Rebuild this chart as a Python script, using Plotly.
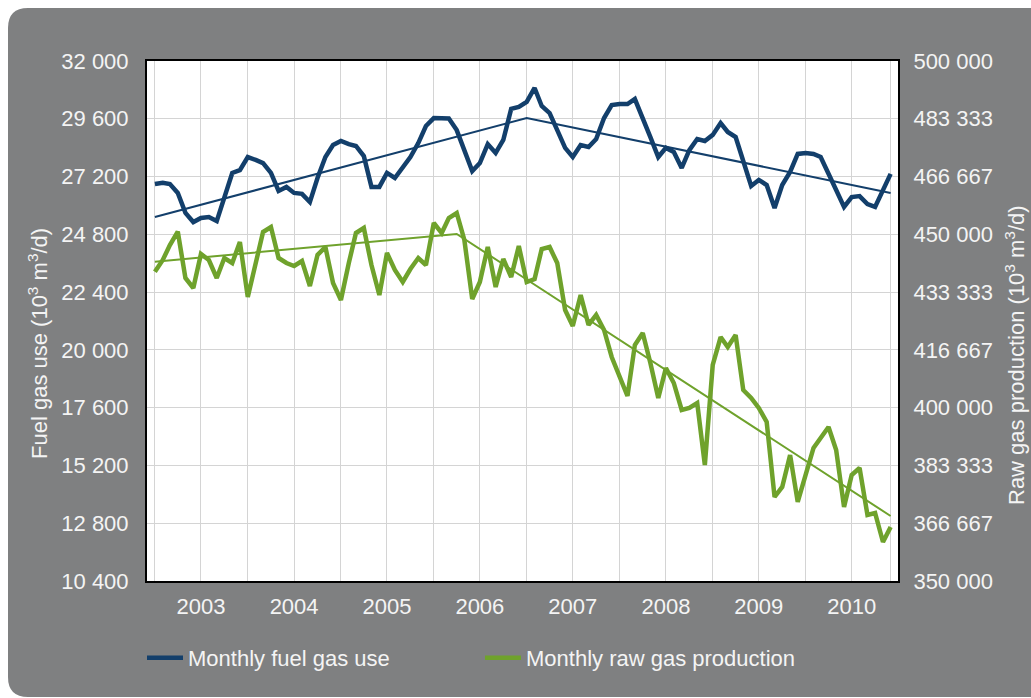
import pandas as pd
import plotly.graph_objects as go

# ---------------- data ----------------
months = pd.date_range("2003-01-01", periods=96, freq="MS")

fuel_gas = [26890, 26945, 26890, 26520, 25690, 25310, 25480, 25520, 25350, 26350,
            27350, 27470, 28010, 27890, 27760, 27350, 26600, 26770, 26520, 26480,
            26140, 27140, 28010, 28510, 28680, 28550, 28470, 28050, 26770, 26770,
            27350, 27140, 27600, 28010, 28590, 29300, 29630, 29630, 29610, 29130,
            28300, 27430, 27760, 28550, 28180, 28720, 30010, 30090, 30300, 30880,
            30130, 29840, 29130, 28390, 28010, 28510, 28430, 28760, 29630, 30170,
            30210, 30210, 30420, 29670, 28840, 28010, 28390, 28220, 27560, 28300,
            28760, 28680, 28930, 29420, 29050, 28840, 27800, 26810, 27060, 26850,
            25890, 26850, 27390, 28140, 28180, 28140, 28010, 27350, 26640, 25940,
            26350, 26390, 26060, 25940, 26640, 27310]

raw_gas = [439220, 442600, 446920, 450760, 437400, 434520, 444330, 442600, 437400, 443170,
           441730, 447790, 431920, 441150, 450670, 452120, 443170, 441730, 440870, 442310,
           435100, 444040, 446350, 435960, 431060, 441730, 450380, 451830, 441150, 432500,
           444620, 439710, 436250, 440000, 443170, 441150, 453270, 450380, 454710, 456150,
           448370, 431350, 436250, 446350, 434810, 442880, 437690, 446630, 436250, 437120,
           445770, 446350, 441730, 428170, 423560, 432500, 423850, 426730, 422400, 414620,
           408560, 403370, 418080, 421540, 412880, 402790, 411440, 407120, 399330, 399900,
           401350, 383460, 412310, 420380, 417500, 420960, 405100, 402790, 399900, 395870,
           374230, 377120, 386350, 372790, 380580, 388370, 391250, 394420, 387790, 371350,
           380580, 382600, 369040, 369620, 361250, 365580]

fuel_trend_x = ["2003-01-01", "2007-01-01", "2010-12-01"]
fuel_trend_y = [25520, 29630, 26520]
raw_trend_x = ["2003-01-01", "2006-04-01", "2010-12-01"]
raw_trend_y = [442100, 450100, 368750]

year_ticks = ["2003-07-01", "2004-07-01", "2005-07-01", "2006-07-01",
              "2007-07-01", "2008-07-01", "2009-07-01", "2010-07-01"]
year_labels = ["2003", "2004", "2005", "2006", "2007", "2008", "2009", "2010"]
minor_grid = ["2003-01-01", "2004-01-01", "2005-01-01", "2006-01-01", "2007-01-01",
              "2008-01-01", "2009-01-01", "2010-01-01", "2010-12-01"]

left_ticks = [10400, 12800, 15200, 17600, 20000, 22400, 24800, 27200, 29600, 32000]
left_labels = ["10 400", "12 800", "15 200", "17 600", "20 000", "22 400",
               "24 800", "27 200", "29 600", "32 000"]
right_ticks = [350000, 366666.67, 383333.33, 400000, 416666.67, 433333.33,
               450000, 466666.67, 483333.33, 500000]
right_labels = ["350 000", "366 667", "383 333", "400 000", "416 667", "433 333",
                "450 000", "466 667", "483 333", "500 000"]

# ---------------- style ----------------
BLUE = "#133f6b"
GREEN = "#6fa22c"
PANEL = "#7f8081"
GRID = "#d4d4d4"
FONT = "Liberation Sans, Arial, sans-serif"
FS = 22

W, H = 1031, 698
L, R, T, B = 147, 898, 61, 581
pw, ph = R - L, B - T


def px(xp):
    return (xp - L) / pw


def py(yp):
    return (B - yp) / ph


fig = go.Figure()

fig.add_trace(go.Scatter(x=months, y=fuel_gas, mode="lines", name="Monthly fuel gas use",
                         line=dict(color=BLUE, width=4.5), yaxis="y"))
fig.add_trace(go.Scatter(x=months, y=raw_gas, mode="lines", name="Monthly raw gas production",
                         line=dict(color=GREEN, width=4.5), yaxis="y2"))
fig.add_trace(go.Scatter(x=fuel_trend_x, y=fuel_trend_y, mode="lines", showlegend=False,
                         line=dict(color=BLUE, width=2), yaxis="y"))
fig.add_trace(go.Scatter(x=raw_trend_x, y=raw_trend_y, mode="lines", showlegend=False,
                         line=dict(color=GREEN, width=2), yaxis="y2"))

# grey rounded panel + white plot area
x0, x1 = px(8), px(1045)
yt, yb = py(8), py(697)
rx, ry = 20 / pw, 20 / ph
panel_path = (f"M {x0+rx},{yt} L {x1},{yt} L {x1},{yb} L {x0+rx},{yb} "
              f"Q {x0},{yb} {x0},{yb+ry} L {x0},{yt-ry} Q {x0},{yt} {x0+rx},{yt} Z")

shapes = [
    dict(type="path", xref="paper", yref="paper", path=panel_path,
         fillcolor=PANEL, line=dict(width=0), layer="below"),
    dict(type="rect", xref="paper", yref="paper", x0=0, x1=1, y0=0, y1=1,
         fillcolor="white", line=dict(width=0), layer="below"),
]

tickfont = dict(family=FONT, size=FS, color="#f4f4f4")

fig.update_layout(
    width=W, height=H,
    margin=dict(l=L, r=W - R, t=T, b=H - B, pad=0),
    paper_bgcolor="white",
    plot_bgcolor="white",
    shapes=shapes,
    font=dict(family=FONT, size=FS, color="#f4f4f4"),
    xaxis=dict(
        type="date",
        range=["2002-12-01", "2010-12-30"],
        tickmode="array", tickvals=year_ticks, ticktext=year_labels,
        showgrid=True, gridcolor=GRID, gridwidth=1,
        minor=dict(tickmode="array", tickvals=minor_grid, showgrid=True,
                   gridcolor=GRID, gridwidth=1, ticks=""),
        showline=True, linecolor="black", linewidth=2, mirror=True,
        ticks="outside", ticklen=5, tickcolor="rgba(0,0,0,0)",
        tickfont=tickfont, zeroline=False,
    ),
    yaxis=dict(
        range=[10400, 32000],
        tickmode="array", tickvals=left_ticks, ticktext=left_labels,
        showgrid=True, gridcolor=GRID, gridwidth=1,
        showline=True, linecolor="black", linewidth=2, mirror=True,
        ticks="outside", ticklen=12, tickcolor="rgba(0,0,0,0)",
        tickfont=tickfont, zeroline=False,
    ),
    yaxis2=dict(
        range=[350000, 500000], overlaying="y", side="right",
        tickmode="array", tickvals=right_ticks, ticktext=right_labels,
        showgrid=False, showline=True, linecolor="black", linewidth=2,
        ticks="outside", ticklen=9, tickcolor="rgba(0,0,0,0)",
        tickfont=tickfont, zeroline=False,
    ),
    legend=dict(
        orientation="h", x=px(142), xanchor="left", y=py(658), yanchor="middle",
        bgcolor="rgba(0,0,0,0)", font=dict(family=FONT, size=FS, color="#f4f4f4"),
        entrywidth=287, entrywidthmode="pixels", itemwidth=36,
    ),
    annotations=[
        dict(text="Fuel gas use (10<sup>3</sup> m<sup>3</sup>/d)", xref="paper", yref="paper",
             x=px(38), y=py(344), textangle=-90, showarrow=False,
             xanchor="center", yanchor="middle",
             font=dict(family=FONT, size=FS, color="#f4f4f4")),
        dict(text="Raw gas production (10<sup>3</sup> m<sup>3</sup>/d)", xref="paper", yref="paper",
             x=px(1015), y=py(355), textangle=-90, showarrow=False,
             xanchor="center", yanchor="middle",
             font=dict(family=FONT, size=FS, color="#f4f4f4")),
    ],
)

fig.write_html("out.html")
